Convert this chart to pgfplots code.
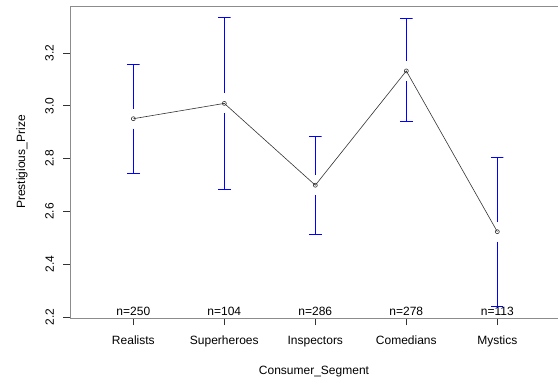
\documentclass[border=0pt]{standalone}
\usepackage{fontspec}
\setmainfont{Liberation Sans}
\usepackage{pgfplots}
\pgfplotsset{compat=1.18}
\usetikzlibrary{calc}
\definecolor{rblue}{RGB}{0,0,255}
\begin{document}
\fontsize{12bp}{14bp}\selectfont
\begin{tikzpicture}
\begin{axis}[
  name=ax,
  scale only axis,
  width=488bp, height=312bp,
  xmin=0.304, xmax=5.667, ymin=2.196, ymax=3.378,
  axis x line*=bottom, axis y line*=left,
  axis line style={black!45, line width=0.8pt, -},
  xtick={1,2,3,4,5},
  xticklabels={Realists,Superheroes,Inspectors,Comedians,Mystics},
  ytick={2.2,2.4,2.6,2.8,3.0,3.2},
  tick align=outside,
  major tick length=7bp,
  tick style={black!80, line width=0.6pt},
  xticklabel style={anchor=north, inner sep=0pt, font=\fontsize{12bp}{14bp}\selectfont},
  xticklabel shift=11bp,
  yticklabel style={rotate=90, anchor=south, inner sep=0pt, font=\fontsize{12bp}{14bp}\selectfont,
    /pgf/number format/.cd, fixed, fixed zerofill, precision=1, assume math mode=true},
  yticklabel shift=9bp,
  xlabel={Consumer\_Segment},
  ylabel={Prestigious\_Prize},
  xlabel style={at={(axis description cs:0.5,-0.1795)}, anchor=base, inner sep=0pt, font=\fontsize{12bp}{14bp}\selectfont},
  ylabel style={at={(axis description cs:-0.0922,0.5)}, anchor=base, rotate=0, inner sep=0pt, font=\fontsize{12bp}{14bp}\selectfont},
  clip=false,
]
% error bars (95% CI) with a gap around each mean
\pgfplotsset{eb/.style={color=rblue, line width=1bp, mark=none, forget plot}}
\addplot[eb] coordinates {(0.932,3.157) (1.068,3.157) (1,3.157) (1,2.989)};
\addplot[eb] coordinates {(1,2.913) (1,2.745) (0.932,2.745) (1.068,2.745)};
\addplot[eb] coordinates {(1.932,3.335) (2.068,3.335) (2,3.335) (2,3.047)};
\addplot[eb] coordinates {(2,2.971) (2,2.684) (1.932,2.684) (2.068,2.684)};
\addplot[eb] coordinates {(2.932,2.883) (3.068,2.883) (3,2.883) (3,2.737)};
\addplot[eb] coordinates {(3,2.661) (3,2.513) (2.932,2.513) (3.068,2.513)};
\addplot[eb] coordinates {(3.932,3.331) (4.068,3.331) (4,3.331) (4,3.170)};
\addplot[eb] coordinates {(4,3.094) (4,2.940) (3.932,2.940) (4.068,2.940)};
\addplot[eb] coordinates {(4.932,2.803) (5.068,2.803) (5,2.803) (5,2.561)};
\addplot[eb] coordinates {(5,2.485) (5,2.239) (4.932,2.239) (5.068,2.239)};
% means
\addplot[draw=black!80, line width=0.6pt, mark=o, mark size=2bp, mark options={solid, draw=black!80, line width=0.6pt}]
  coordinates {(1,2.951) (2,3.009) (3,2.699) (4,3.132) (5,2.523)};
% top frame line
\draw[black!45, line width=0.8pt] (rel axis cs:0,1) -- (rel axis cs:1,1);
% sample sizes
\node[anchor=base, inner sep=0pt] at (axis cs:1,2.2038) {n=250};
\node[anchor=base, inner sep=0pt] at (axis cs:2,2.2038) {n=104};
\node[anchor=base, inner sep=0pt] at (axis cs:3,2.2038) {n=286};
\node[anchor=base, inner sep=0pt] at (axis cs:4,2.2038) {n=278};
\node[anchor=base, inner sep=0pt] at (axis cs:5,2.2038) {n=113};
\end{axis}
\pgfresetboundingbox
\useasboundingbox ($(ax.south west)+(-70bp,-63bp)$) rectangle ($(ax.north east)+(0bp,6bp)$);
\end{tikzpicture}
\end{document}
